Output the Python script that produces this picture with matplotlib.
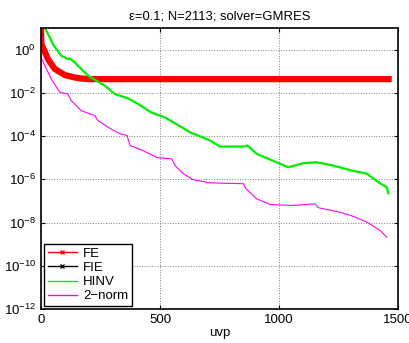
import matplotlib
matplotlib.use('Agg')
import matplotlib.pyplot as plt
from matplotlib.lines import Line2D
import numpy as np

plt.rcParams['font.family'] = ['Liberation Sans', 'DejaVu Sans']
plt.rcParams['mathtext.default'] = 'regular'

# values (uvp, log10 of residual)
fe_x = [0, 1, 8, 29, 58, 100, 140, 168, 200, 400, 800, 1200, 1460]
fe_log = [1.0, 0.3, 0.1, -0.43, -0.89, -1.17, -1.28, -1.33, -1.36, -1.36, -1.36, -1.36, -1.36]

fie_x = fe_x
fie_log = fe_log

hinv_x = [18, 50, 85, 113, 121, 142, 197, 268, 310, 366, 408, 463, 520, 556, 626, 710,
          752, 857, 867, 906, 990, 1039, 1102, 1158, 1228, 1305, 1369, 1417, 1452, 1459]
hinv_log = [0.98, 0.26, -0.28, -0.43, -0.40, -0.59, -1.20, -1.66, -2.05, -2.25, -2.51,
            -2.90, -3.13, -3.36, -3.82, -4.20, -4.48, -4.48, -4.43, -4.82, -5.21, -5.44,
            -5.25, -5.21, -5.36, -5.59, -5.74, -6.13, -6.36, -6.64]

norm_x = [0, 1, 16, 43, 79, 113, 127, 169, 226, 239, 282, 331, 361, 374, 429, 487, 549,
          563, 598, 640, 710, 850, 861, 906, 962, 1060, 1151, 1165, 1256, 1312, 1369,
          1424, 1452]
norm_log = [-0.2, -0.36, -0.74, -1.35, -1.97, -2.05, -2.36, -2.82, -3.05, -3.28, -3.59,
            -3.89, -3.97, -4.43, -4.67, -4.99, -5.05, -5.36, -5.74, -6.02, -6.16, -6.20,
            -6.43, -6.90, -7.16, -7.21, -7.13, -7.31, -7.52, -7.71, -7.98, -8.36, -8.67]

fig = plt.figure(figsize=(4.1, 3.43), dpi=100)
ax = fig.add_axes([0.1, 0.099, 0.871, 0.819])

ax.semilogy(fie_x, 10.0 ** np.array(fie_log), color='black', lw=1)
ax.semilogy(fe_x, 10.0 ** np.array(fe_log), color='red', lw=4.5, solid_joinstyle='round')
ax.semilogy(hinv_x, 10.0 ** np.array(hinv_log), color='#00ee00', lw=1.6)
ax.semilogy(norm_x, 10.0 ** np.array(norm_log), color='magenta', lw=0.8)

ax.set_xlim(0, 1500)
ax.set_ylim(1e-12, 1e1)
ax.set_xticks([0, 500, 1000, 1500])
ax.set_yticks([10.0 ** k for k in range(-12, 1, 2)])
ax.minorticks_off()
ax.tick_params(direction='in', top=True, right=True, labelsize=9.5, length=3)
ax.grid(True, linestyle=':', color='gray', linewidth=0.7)
for s in ax.spines.values():
    s.set_linewidth(1.2)

ax.set_title('ε=0.1; N=2113; solver=GMRES', fontsize=9.4)
ax.set_xlabel('uvp', fontsize=9.5, labelpad=1)

handles = [
    Line2D([], [], color='red', marker='x', markersize=3, lw=1),
    Line2D([], [], color='black', marker='x', markersize=3, lw=1),
    Line2D([], [], color='#00ee00', lw=1),
    Line2D([], [], color='magenta', lw=1),
]
leg = ax.legend(handles, ['FE', 'FIE', 'HINV', '2\u2212norm'], loc='lower left',
                fontsize=9.5, fancybox=False, framealpha=1, edgecolor='black',
                borderaxespad=0.2, handlelength=2.2, labelspacing=0.15,
                borderpad=0.3, handletextpad=0.5)
leg.get_frame().set_linewidth(1)

fig.savefig('out.png', dpi=100)
